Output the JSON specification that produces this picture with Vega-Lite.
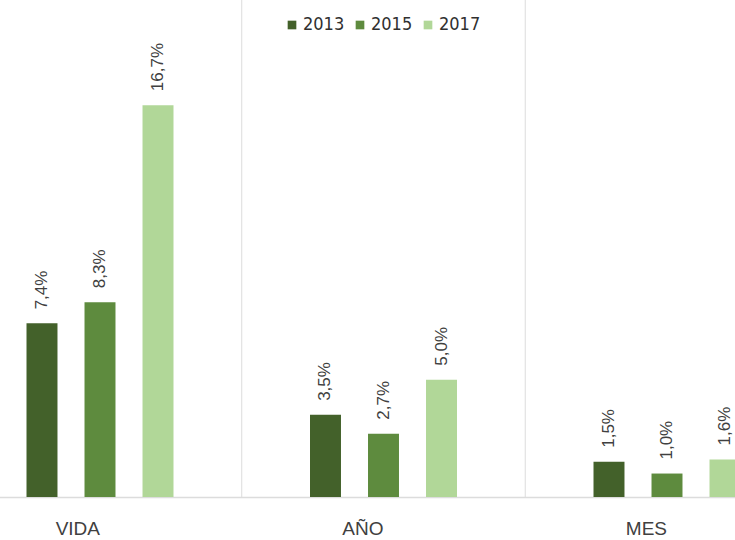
{
  "$schema": "https://vega.github.io/schema/vega-lite/v6.json",
  "width": 735,
  "height": 497,
  "autosize": {"type": "none"},
  "padding": {"left": 0, "top": 0, "right": 0, "bottom": 43},
  "background": "white",
  "config": {
    "view": {"stroke": null},
    "font": "Liberation Sans"
  },
  "layer": [
    {
      "data": {"values": [{"g": "AÑO"}, {"g": "MES"}]},
      "mark": {"type": "rule", "color": "#dcdcdc", "strokeWidth": 1},
      "encoding": {
        "x": {"field": "g", "type": "nominal", "bandPosition": -0.039,
              "scale": {"domain": ["VIDA", "AÑO", "MES"], "range": [-41.75, 808.75], "paddingInner": 0.0723, "paddingOuter": 0.03615}}
      }
    },
    {
      "data": {"values": [
        {"cat": "VIDA", "year": "2013", "v": 7.4, "label": "7,4%"},
        {"cat": "VIDA", "year": "2015", "v": 8.3, "label": "8,3%"},
        {"cat": "VIDA", "year": "2017", "v": 16.7, "label": "16,7%"},
        {"cat": "AÑO", "year": "2013", "v": 3.5, "label": "3,5%"},
        {"cat": "AÑO", "year": "2015", "v": 2.7, "label": "2,7%"},
        {"cat": "AÑO", "year": "2017", "v": 5.0, "label": "5,0%"},
        {"cat": "MES", "year": "2013", "v": 1.5, "label": "1,5%"},
        {"cat": "MES", "year": "2015", "v": 1.0, "label": "1,0%"},
        {"cat": "MES", "year": "2017", "v": 1.6, "label": "1,6%"}
      ]},
      "encoding": {
        "x": {"field": "cat", "type": "nominal", "sort": ["VIDA", "AÑO", "MES"],
              "axis": {"title": null, "labelAngle": 0, "labelFontSize": 19, "labelColor": "#404040",
                       "labelPadding": 31, "ticks": false, "domainColor": "#dcdcdc", "domainWidth": 1.5, "grid": false}},
        "xOffset": {"field": "year", "type": "nominal", "scale": {"paddingInner": 0.466, "paddingOuter": 1}},
        "y": {"field": "v", "type": "quantitative", "scale": {"domain": [0, 21.18], "nice": false}, "axis": null}
      },
      "layer": [
        {
          "mark": {"type": "bar"},
          "encoding": {
            "color": {"field": "year", "type": "nominal",
                      "scale": {"domain": ["2013", "2015", "2017"], "range": ["#43612a", "#5e8b3e", "#b1d798"]},
                      "legend": {"title": null, "orient": "none", "legendX": 283, "legendY": 16, "direction": "horizontal",
                                 "symbolType": "square", "symbolSize": 75, "symbolStrokeWidth": 0, "labelFontSize": 18,
                                 "labelFont": "DejaVu Sans Condensed, Liberation Sans", "labelColor": "#303030", "columnPadding": 6, "labelOffset": 2}}
          }
        },
        {
          "mark": {"type": "text", "angle": 270, "align": "left", "baseline": "middle", "dx": 14, "fontSize": 17, "color": "#404040"},
          "encoding": {"text": {"field": "label"}}
        }
      ]
    }
  ]
}
